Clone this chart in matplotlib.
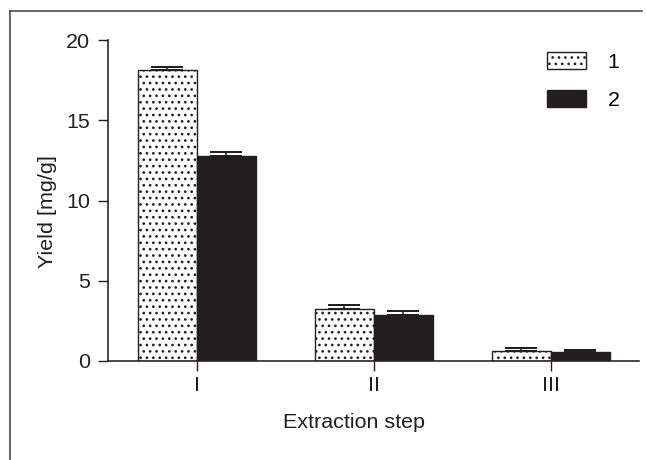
import numpy as np
import matplotlib.pyplot as plt
from matplotlib.lines import Line2D

#dpi picked so that the '...' hatch spacing matches the dotted bars
DPI = 115
def pt(px):
    return px * 72.0 / DPI

plt.rcParams['font.family'] = ['Liberation Sans', 'DejaVu Sans']
plt.rcParams['hatch.linewidth'] = pt(1.4)

#data
steps = ["I", "II", "III"]
series_labels = ["1", "2"]
yield_1 = [18.1, 3.25, 0.65]
err_1 = [0.2, 0.25, 0.15]
yield_2 = [12.8, 2.85, 0.55]
err_2 = [0.2, 0.25, 0.12]

ink = '#231f20'
fs = pt(21.5)

fig = plt.figure(figsize=(647/DPI, 460/DPI), dpi=DPI)
ax = fig.add_axes([108/647, 1 - 361/460, (639 - 108)/647, (361 - 40)/460])

x = np.arange(len(steps))
w = 1/3
ax.bar(x - w/2, yield_1, w, color='white', edgecolor=ink, hatch='...', linewidth=pt(1.4), label=series_labels[0])
ax.bar(x + w/2, yield_2, w, color=ink, edgecolor=ink, linewidth=pt(1.4), label=series_labels[1])
ax.errorbar(x - w/2, yield_1, yerr=[np.zeros(3), err_1], fmt='none', ecolor=ink, elinewidth=pt(1.6), capsize=pt(16), capthick=pt(2))
ax.errorbar(x + w/2, yield_2, yerr=[np.zeros(3), err_2], fmt='none', ecolor=ink, elinewidth=pt(1.6), capsize=pt(16), capthick=pt(2))

ax.set_xlim(-0.5, 2.5)
ax.set_ylim(0, 20)
ax.set_yticks([0, 5, 10, 15, 20])
ax.set_xticks(x)
ax.set_xticklabels(steps)
for s in ['top', 'right']:
    ax.spines[s].set_visible(False)
for s in ['left', 'bottom']:
    ax.spines[s].set_color(ink)
    ax.spines[s].set_linewidth(pt(1.6))
ax.tick_params(colors=ink, labelcolor=ink, length=pt(10), width=pt(1.4), labelsize=fs)
ax.tick_params(axis='y', pad=pt(8))
ax.tick_params(axis='x', pad=pt(5))
ax.set_ylabel("Yield [mg/g]", fontsize=fs, color=ink)
ax.set_xlabel("Extraction step", fontsize=fs, color=ink)
# labels sit a bit off-centre in the original
ax.yaxis.set_label_coords(-0.096, 0.464)
ax.xaxis.set_label_coords(0.463, -0.162)

ax.legend(loc='upper right', bbox_to_anchor=(1.0, 1.024), frameon=False, fontsize=fs,
          handlelength=1.8, handleheight=0.84, labelspacing=0.84, handletextpad=1.0)

#outer frame of the original figure (left and top only)
fig.add_artist(Line2D([10/647, 10/647], [0, 1 - 11/460], color='#444444', lw=pt(1.6)))
fig.add_artist(Line2D([10/647, 642/647], [1 - 11/460, 1 - 11/460], color='#444444', lw=pt(1.6)))

fig.savefig("out.png", dpi=DPI)
